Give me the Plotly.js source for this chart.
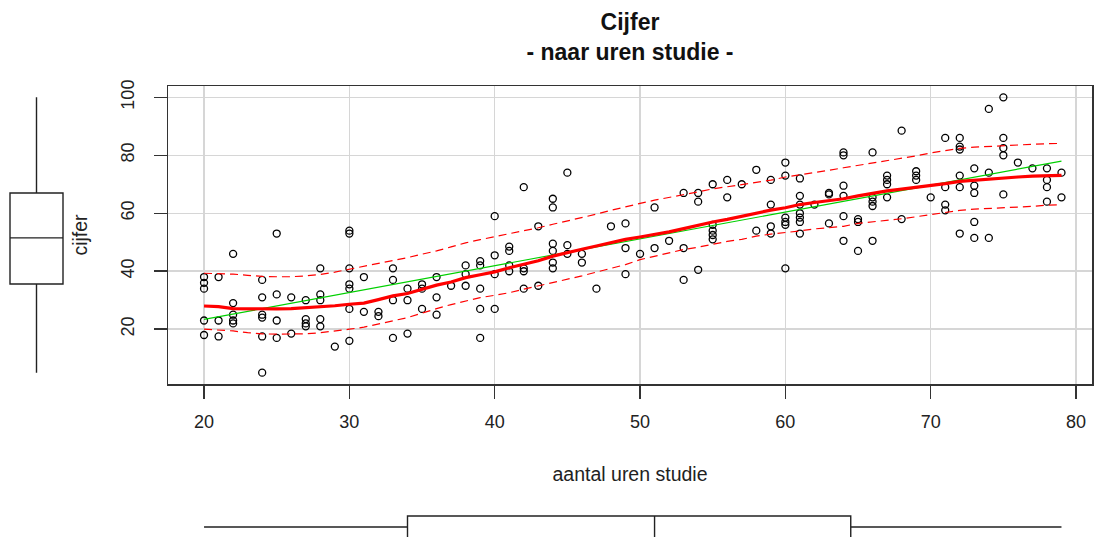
<!DOCTYPE html>
<html>
<head>
<meta charset="utf-8">
<script src="https://cdn.plot.ly/plotly-3.0.1.min.js"></script>
<style>
html,body{margin:0;padding:0;background:#fff;}
#chart{width:1094px;height:537px;}
</style>
</head>
<body>
<div id="chart"></div>
<script>
// ---- data ----
const hours = [20,20,20,20,20, 21,21,21, 22,22,22,22,22, 24,24,24,24,24,24, 25,25,25,25, 26,26, 27,27,27,27, 28,28,28,28,28, 29, 30,30,30,30,30,30,30, 31,31, 32,32, 33,33,33,33, 34,34,34, 35,35,35, 36,36,36, 37, 38,38,38, 39,39,39,39,39, 40,40,40,40, 41,41,41,41, 42,42,42,42, 43,43, 44,44,44,44,44,44, 45,45,45, 46,46, 47, 48, 49,49,49, 50, 51,51, 52, 53,53,53, 54,54,54, 55,55,55,55,55, 56,56, 57, 58,58, 59,59,59,59, 60,60,60,60,60,60, 61,61,61,61,61,61,61, 62, 63,63,63, 64,64,64,64,64,64, 65,65,65, 66,66,66,66,66, 67,67,67,67, 68,68, 69,69,69, 70, 71,71,71,71, 72,72,72,72,72,72, 73,73,73,73,73, 74,74,74, 75,75,75,75,75, 76, 77, 78,78,78,78, 79,79];
const grades = [38,36,34,23,18, 38,23,17.5, 46,29,25,23,22, 37,31,25,24,17.5,5, 53,32,23,17, 31,18.5, 30,23.5,22,21, 41,32,30,23.5,21, 14, 54,53,41,35.5,34,27,16, 38,26, 26,24.5, 41,37,30,17, 34,30,18.5, 35.5,34,27, 38,31,25, 35, 42,39,35, 43.5,42,34,27,17, 59,45.5,39,27, 48.5,47,42,40, 69,41,40,34, 55.5,35, 65,62,49.5,47,43,41, 74,49,46, 46,43, 34, 55.5, 56.5,48,39, 46, 62,48, 50.5, 67,48,37, 67,64,40.5, 70,56,54,52.5,51, 71.5,65.5, 70, 75,54, 71.5,63,55.5,53, 77.5,73,58.5,57,56,41, 72,66,63,60,58.5,57,53, 63, 67,66.5,56.5, 81,80,69.5,66,59,50.5, 58,57,47, 81,65.5,64,62.5,50.5, 73,71.5,70,65.5, 88.5,58, 74.5,73,71.5, 65.5, 86,69,63,61, 86,83,82,73,69,53, 75.5,69.5,67,57,51.5, 96,74,51.5, 100,86,82.5,80,66.5, 77.5, 75.5, 75.5,71.5,69,64, 74,65.5];

// smoother (loess) and spread curves
const smoothX = [20,21,22,23,24,25,26,27,28,29,30,31,32,33,34,35,36,37,38,39,40,41,42,43,44,45,46,47,48,49,50,51,52,53,54,55,56,57,58,59,60,61,62,63,64,65,66,67,68,69,70,71,72,73,74,75,76,77,78,79];
const smoothY = [28,27.8,27.1,27,27,27,27.1,27.4,27.7,28.1,28.6,29,30.2,31.5,32.3,33.8,35.2,36.3,37.8,38.8,39.8,41.2,42.4,43.6,45.2,46.5,47.6,48.7,49.9,51,51.8,52.6,53.6,54.7,55.9,57,57.9,59,60.1,61.1,61.9,63,63.7,64.3,65,66,66.9,67.7,68.3,68.9,69.4,70.2,71,71.4,71.8,72.3,72.5,72.8,73,73.1];
const upperY = [39.3,39.2,39,38.6,38.2,38.1,38.1,38.4,38.9,39.7,40.7,41.5,42.6,43.6,44.7,45.9,47,48.4,49.8,50.9,51.9,52.8,53.9,55,56.2,57.3,58.5,59.7,61,62.3,63.4,64.5,65.4,66.5,67.4,68.4,69.2,70,70.7,71.4,72.5,73.2,73.9,74.8,75.7,76.5,77.2,78,78.8,79.8,80.8,81.7,82.4,82.8,83.1,83.3,83.6,83.8,84,84.1];
const lowerY = [20,19.7,19.4,18.8,18.4,18.3,18.3,18.4,18.8,19.3,20,20.7,21.7,22.9,24,25.6,27.1,28.5,29.8,30.9,31.7,32.6,33.8,34.9,36.1,37.2,38.4,39.7,40.9,42.3,44,45.2,46.4,47.5,48.3,49.3,50.3,51,52.1,52.8,53.3,53.9,54.6,55,55.5,56.5,57,57.6,58.1,58.8,59.6,60.4,61,61.4,61.6,61.8,62,62.4,62.8,62.9];

// linear regression line
const regX = [20, 79];
const regY = [23.4, 78];

// marginal boxplot statistics [lowerfence, q1, median, q3, upperfence]
const boxHours = [20, 34, 51, 64.5, 79];
const boxGrades = [5, 35.6, 51.5, 67, 100];

const xTicks = [20,30,40,50,60,70,80];
const yTicks = [20,40,60,80,100];

// ---- chart ----
const W = 1094, H = 537;
const xRange = [17.52, 81.1];
const yRange = [1.1, 103.9];
const xDom = [168/W, 1092/W];
const yDom = [(H-384)/H, (H-86)/H];
const font = "Liberation Sans, Arial, sans-serif";
const axisColor = '#333333';

const traces = [
  {type:'scatter', mode:'markers', x:hours, y:grades, xaxis:'x', yaxis:'y',
   marker:{symbol:'circle-open', size:7, color:'#000', line:{width:1.3, color:'#000'}},
   showlegend:false, hoverinfo:'x+y'},
  {type:'scatter', mode:'lines', x:regX, y:regY, xaxis:'x', yaxis:'y',
   line:{color:'#00D000', width:1.2}, showlegend:false},
  {type:'scatter', mode:'lines', x:smoothX, y:upperY, xaxis:'x', yaxis:'y',
   line:{color:'#FF0000', width:1.2, dash:'8px,5px'}, showlegend:false},
  {type:'scatter', mode:'lines', x:smoothX, y:lowerY, xaxis:'x', yaxis:'y',
   line:{color:'#FF0000', width:1.2, dash:'8px,5px'}, showlegend:false},
  {type:'scatter', mode:'lines', x:smoothX, y:smoothY, xaxis:'x', yaxis:'y',
   line:{color:'#FF0000', width:3.2}, showlegend:false},
  // left marginal boxplot (grades)
  {type:'box', xaxis:'x2', yaxis:'y2', x:[0],
   lowerfence:[boxGrades[0]], q1:[boxGrades[1]], median:[boxGrades[2]], q3:[boxGrades[3]], upperfence:[boxGrades[4]],
   width:1.452, whiskerwidth:0, fillcolor:'rgba(0,0,0,0)', line:{color:'#222', width:1.4},
   boxpoints:false, showlegend:false, hoverinfo:'none'},
  // bottom marginal boxplot (hours)
  {type:'box', orientation:'h', xaxis:'x3', yaxis:'y3', y:[0],
   lowerfence:[boxHours[0]], q1:[boxHours[1]], median:[boxHours[2]], q3:[boxHours[3]], upperfence:[boxHours[4]],
   width:0.55, whiskerwidth:0, fillcolor:'rgba(0,0,0,0)', line:{color:'#222', width:1.4},
   boxpoints:false, showlegend:false, hoverinfo:'none'}
];

const layout = {
  width:W, height:H,
  margin:{l:0, r:0, t:0, b:0},
  paper_bgcolor:'#fff', plot_bgcolor:'#fff',
  font:{family:font, color:'#222'},
  title:{text:'<b>Cijfer</b><br><b>- naar uren studie -</b>', font:{size:23, family:font, color:'#111'},
         xref:'container', yref:'container', x:630/W, xanchor:'center', y:1-30/H, yanchor:'top'},
  xaxis:{domain:xDom, range:xRange, anchor:'y', tickvals:xTicks, ticktext:xTicks.map(String),
         ticks:'outside', ticklen:13, tickwidth:1.5, tickcolor:axisColor,
         showline:true, mirror:true, linecolor:axisColor, linewidth:1.5,
         showgrid:true, gridcolor:'#D6D6D6', gridwidth:1.5, zeroline:false,
         tickfont:{size:18, family:font, color:'#222'}, ticklabelstandoff:8,
         title:{text:'aantal uren studie', font:{size:19.5, family:font, color:'#222'}, standoff:36},
         automargin:false, fixedrange:true},
  yaxis:{domain:yDom, range:yRange, anchor:'x', tickvals:yTicks, ticktext:yTicks.map(String),
         ticks:'outside', ticklen:13, tickwidth:1.5, tickcolor:axisColor, tickangle:-90,
         showline:true, mirror:true, linecolor:axisColor, linewidth:1.5,
         showgrid:true, gridcolor:'#D6D6D6', gridwidth:1.5, zeroline:false,
         tickfont:{size:18, family:font, color:'#222'}, ticklabelstandoff:12,
         title:{text:'cijfer', font:{size:19.5, family:font, color:'#222'}, standoff:25},
         automargin:false, fixedrange:true},
  xaxis2:{domain:[0, 73/W], range:[-1,1], anchor:'y2', visible:false, fixedrange:true},
  yaxis2:{domain:yDom, range:yRange, anchor:'x2', visible:false, fixedrange:true},
  xaxis3:{domain:xDom, range:xRange, anchor:'y3', visible:false, fixedrange:true},
  yaxis3:{domain:[0, 40/H], range:[-0.25,0.75], anchor:'x3', visible:false, fixedrange:true}
};

Plotly.newPlot('chart', traces, layout, {displayModeBar:false, staticPlot:true});
</script>
</body>
</html>
